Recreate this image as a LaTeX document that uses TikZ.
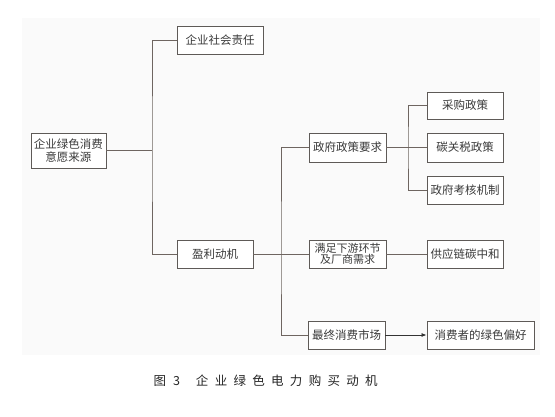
\documentclass[tikz,border=0pt]{standalone}
\usepackage{fontspec}
\newfontfamily\cjk{Noto Sans CJK SC}
\usetikzlibrary{arrows.meta}
\definecolor{panel}{HTML}{FAFAFA}
\definecolor{edge}{HTML}{5E5A57}
\definecolor{wire}{HTML}{6E6560}
\definecolor{ink}{HTML}{3A3A3A}
\tikzset{
  box/.style={draw=edge, line width=0.9pt, fill=white, inner sep=1pt, minimum height=28pt, text=ink,
    font=\cjk\fontsize{11.5}{12.5}\selectfont, align=center},
  wireline/.style={draw=wire, line width=0.9pt}
}
\begin{document}
\begin{tikzpicture}[x=1pt,y=-1pt]
\useasboundingbox (0,0) rectangle (555,417);
\fill[white] (0,0) rectangle (555,417);
\fill[panel] (22,18) rectangle (540,355);
% nodes
\node[box, minimum width=75pt, minimum height=35pt] (root) at (68.5,150.5) {企业绿色消费\\意愿来源};
\node[box, minimum width=86pt] (csr) at (220,40) {企业社会责任};
\node[box, minimum width=76pt] (profit) at (215,254) {盈利动机};
\node[box, minimum width=77pt, minimum height=29pt] (gov) at (347.5,147.5) {政府政策要求};
\node[box, minimum width=77pt, font=\cjk\fontsize{11}{11.5}\selectfont] (meet) at (347.5,254) {满足下游环节\\及厂商需求};
\node[box, minimum width=77pt] (final) at (346.5,335) {最终消费市场};
\node[box, minimum width=76pt, minimum height=27pt] (cg) at (465,105.5) {采购政策};
\node[box, minimum width=76pt, minimum height=29pt] (cbam) at (465,147.5) {碳关税政策};
\node[box, minimum width=76pt] (eval) at (465,190) {政府考核机制};
\node[box, minimum width=76pt] (scn) at (465,254) {供应链碳中和};
\node[box, minimum width=107pt] (pref) at (480.5,335) {消费者的绿色偏好};
% trunk coordinates
\coordinate (t1) at (152,150.5);
\coordinate (t2) at (281,254);
\coordinate (t3) at (408,147.5);
% connectors
\draw[wireline] (root.east) -- (t1);
\draw[wireline] (csr.west) -| (t1) |- (profit.west);
\draw[wireline] (profit.east) -- (meet.west);
\draw[wireline] (gov.west) -| (t2) |- (final.west);
\draw[wireline] (gov.east) -- (cbam.west);
\draw[wireline] (cg.west) -| (t3) |- (eval.west);
\draw[wireline] (meet.east) -- (scn.west);
\draw[draw=black!80, line width=0.8pt, -{Latex[length=5pt,width=4pt]}] (final.east) -- (pref.west);
% caption
\node[text=black!85, font=\cjk\fontsize{12.5}{14}\selectfont, anchor=west] (cap) at (150,381)
  {图\hspace{7pt}3\hspace{16pt}企\hspace{6.3pt}业\hspace{6.3pt}绿\hspace{6.3pt}色\hspace{6.3pt}电\hspace{6.3pt}力\hspace{6.3pt}购\hspace{6.3pt}买\hspace{6.3pt}动\hspace{6.3pt}机};
\end{tikzpicture}
\end{document}
